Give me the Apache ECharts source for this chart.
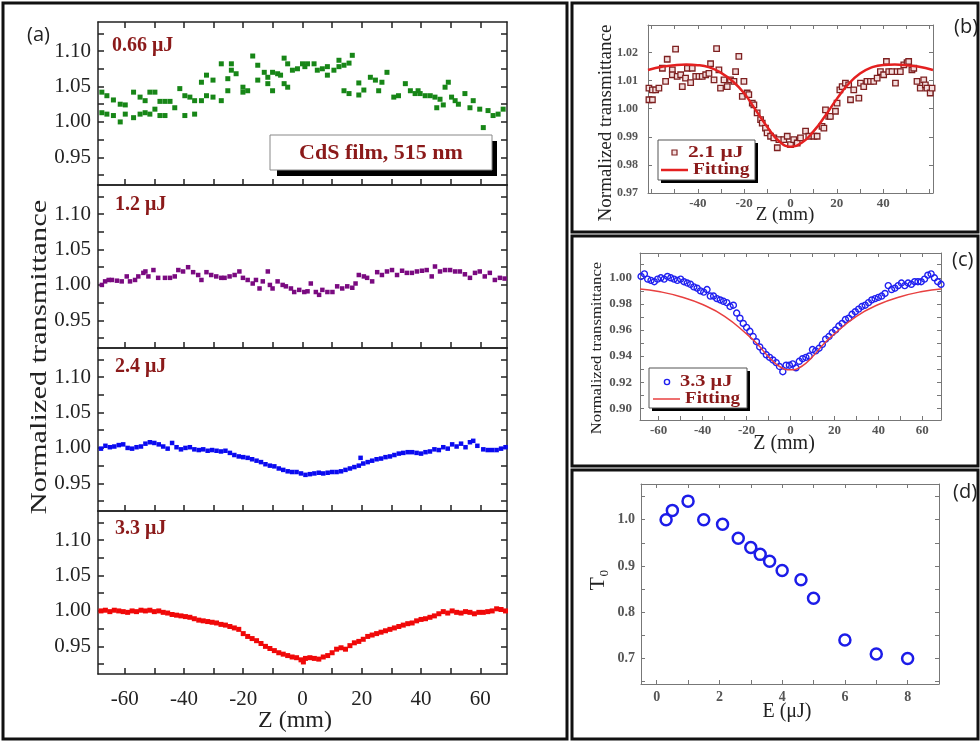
<!DOCTYPE html>
<html lang="en">
<head>
<meta charset="UTF-8">
<title>CdS film Z-scan</title>
<script src="https://cdn.jsdelivr.net/npm/echarts@6/dist/echarts.min.js"></script>
<style>
    html, body { margin: 0; padding: 0; background: #fff; }
    #main { width: 980px; height: 742px; }
</style>
</head>
<body>
<div id="main"></div>
<script type="text/javascript">
    // ---- data ----
    // (a) Z (mm) vs normalized transmittance, four pulse energies
    var pts066 = [[-67.7,1.042],[-67.7,1.013],[-66.0,1.037],[-66.0,1.011],[-63.8,1.031],[-63.8,1.009],[-61.5,1.000],[-61.5,1.025],[-59.8,1.024],[-59.8,1.011],[-57.0,1.006],[-57.0,1.042],[-54.8,1.035],[-54.8,1.011],[-53.1,1.030],[-53.1,1.013],[-51.5,1.042],[-51.5,1.011],[-49.8,1.042],[-49.8,1.018],[-48.1,1.029],[-48.1,1.009],[-46.4,1.029],[-46.4,1.009],[-44.7,1.029],[-43.1,1.020],[-41.4,1.047],[-39.7,1.037],[-39.7,1.009],[-38.0,1.035],[-36.4,1.011],[-36.4,1.030],[-34.1,1.056],[-34.1,1.030],[-32.4,1.066],[-32.4,1.037],[-30.2,1.035],[-30.2,1.059],[-27.4,1.030],[-27.4,1.082],[-25.2,1.044],[-25.2,1.061],[-24.0,1.082],[-24.0,1.073],[-22.4,1.068],[-20.1,1.042],[-20.1,1.049],[-18.5,1.044],[-16.8,1.093],[-15.1,1.080],[-15.1,1.059],[-12.9,1.070],[-11.7,1.063],[-11.7,1.054],[-10.1,1.044],[-10.1,1.070],[-8.4,1.068],[-7.4,1.066],[-6.2,1.090],[-6.2,1.054],[-5.0,1.082],[-5.0,1.049],[-3.4,1.073],[-1.7,1.075],[0,1.082],[0.8,1.078],[1.7,1.082],[3.9,1.082],[5.0,1.073],[6.7,1.075],[8.4,1.078],[8.4,1.066],[10.6,1.073],[12.3,1.087],[12.3,1.078],[14.0,1.080],[14.0,1.044],[15.7,1.083],[15.7,1.040],[16.8,1.094],[19.0,1.055],[19.0,1.038],[20.7,1.045],[22.9,1.063],[24.6,1.059],[25.7,1.044],[26.8,1.056],[28.5,1.070],[30.8,1.035],[32.4,1.037],[34.7,1.054],[36.4,1.044],[38.0,1.040],[39.0,1.044],[39.7,1.040],[41.4,1.037],[43.1,1.037],[44.7,1.035],[45.3,1.020],[46.4,1.032],[47.5,1.024],[48.1,1.049],[49.2,1.056],[50.3,1.035],[51.5,1.030],[52.6,1.025],[54.8,1.040],[56.5,1.020],[57.6,1.030],[59.8,1.018],[61.0,0.992],[62.6,1.016],[64.3,1.009],[66.0,1.011],[67.7,1.018]];

    var pts12 = [[-67.7,1.000],[-66.6,1.005],[-65.4,1.007],[-64.3,1.007],[-62.6,1.006],[-61.0,1.005],[-59.3,1.012],[-58.2,1.005],[-56.5,1.007],[-55.4,1.012],[-53.7,1.017],[-53.0,1.019],[-52.0,1.012],[-50.3,1.021],[-48.7,1.010],[-46.4,1.010],[-44.7,1.010],[-43.1,1.012],[-41.9,1.021],[-40.3,1.019],[-38.6,1.025],[-36.9,1.018],[-35.2,1.014],[-34.1,1.007],[-32.4,1.018],[-30.8,1.014],[-29.1,1.012],[-27.4,1.010],[-26.3,1.010],[-24.6,1.012],[-22.9,1.014],[-21.3,1.019],[-20.1,1.010],[-18.5,1.007],[-16.8,1.002],[-15.7,1.007],[-14.5,0.995],[-13.4,1.005],[-11.7,1.019],[-11.0,1.000],[-10.1,0.995],[-8.4,1.005],[-6.7,1.000],[-5.6,0.998],[-3.9,0.995],[-2.8,0.990],[-1.1,0.993],[0.6,0.990],[1.7,0.991],[2.8,1.002],[4.5,0.990],[5.6,0.986],[6.7,0.993],[8.4,0.990],[10.1,0.990],[11.7,0.998],[13.4,0.995],[15.1,0.998],[16.8,0.996],[17.9,1.002],[19.0,1.014],[20.7,1.012],[21.8,1.010],[23.5,1.005],[25.2,1.018],[26.8,1.014],[28.5,1.019],[30.2,1.021],[31.9,1.014],[33.6,1.020],[35.2,1.017],[36.9,1.017],[38.6,1.019],[40.3,1.020],[41.9,1.021],[43.6,1.012],[44.7,1.026],[46.4,1.019],[48.1,1.021],[49.8,1.021],[51.5,1.019],[53.1,1.019],[54.8,1.015],[56.5,1.010],[58.2,1.017],[59.8,1.019],[61.5,1.012],[63.2,1.017],[64.9,1.007],[66.6,1.010],[68.2,1.009]];

    var pts24 = [[-68,0.999],[-66.5,1.003],[-65,1.001],[-63.5,1.002],[-62,1.004],[-60.5,1.005],[-59,1.000],[-57.5,0.999],[-56,1.001],[-54.5,1.002],[-53,1.006],[-51.5,1.008],[-50,1.007],[-48.5,1.005],[-47,1.002],[-45.5,0.999],[-44,1.007],[-42.5,1.001],[-41,0.998],[-39.5,1.000],[-38,1.001],[-36.5,0.998],[-35,0.997],[-33.5,0.998],[-32,0.996],[-30.5,0.997],[-29,0.996],[-27.5,0.995],[-26,0.996],[-24.5,0.993],[-23,0.990],[-21.5,0.988],[-20,0.987],[-18.5,0.986],[-17,0.984],[-15.5,0.982],[-14,0.980],[-12.5,0.977],[-11,0.975],[-9.5,0.974],[-8,0.971],[-6.5,0.969],[-5,0.967],[-3.5,0.966],[-2,0.966],[-0.5,0.964],[1,0.962],[2.5,0.963],[4,0.964],[5.5,0.965],[7,0.964],[8.5,0.965],[10,0.966],[11.5,0.966],[13,0.967],[14.5,0.969],[16,0.971],[17.5,0.973],[19,0.975],[19.6,0.986],[20.5,0.978],[22,0.980],[23.5,0.982],[25,0.984],[26.5,0.985],[28,0.987],[29.5,0.988],[31,0.990],[32.5,0.992],[34,0.993],[35.5,0.994],[37,0.994],[38.5,0.993],[40,0.992],[41.5,0.994],[43,0.995],[44.5,0.998],[46,0.997],[47.5,1.001],[49,0.999],[50.5,1.005],[52,1.002],[53.5,1.006],[55,1.001],[56.5,1.008],[57.6,1.010],[59,1.003],[61,0.998],[62.5,0.997],[64,0.997],[65.5,0.997],[67,0.999],[68.5,1.001]];

    var pts33 = [[-68,1.000],[-66.5,1.001],[-65,0.999],[-63.5,1.001],[-62,1.000],[-60.5,0.999],[-59,0.998],[-57.5,1.000],[-56,0.999],[-54.5,1.001],[-53,1.000],[-51.5,1.001],[-50,0.999],[-48.5,1.000],[-47,0.998],[-45.5,0.997],[-44,0.995],[-42.5,0.994],[-41,0.993],[-39.5,0.992],[-38,0.991],[-36.5,0.989],[-35,0.987],[-33.5,0.986],[-32,0.985],[-30.5,0.984],[-29,0.983],[-27.5,0.981],[-26,0.980],[-24.5,0.978],[-23,0.976],[-21.5,0.974],[-20,0.968],[-18.5,0.964],[-17,0.961],[-15.5,0.958],[-14,0.954],[-12.5,0.950],[-11,0.947],[-9.5,0.944],[-8,0.941],[-6.5,0.939],[-5,0.937],[-3.5,0.935],[-2,0.934],[-0.5,0.931],[0.3,0.928],[1,0.933],[2.5,0.934],[4,0.933],[5.5,0.932],[7,0.935],[8.5,0.937],[10,0.941],[11.5,0.946],[13,0.948],[14.5,0.946],[16,0.951],[17.5,0.955],[19,0.957],[20.5,0.960],[22,0.964],[23.5,0.966],[25,0.968],[26.5,0.970],[28,0.972],[29.5,0.974],[31,0.976],[32.5,0.978],[34,0.980],[35.5,0.982],[37,0.983],[38.5,0.986],[40,0.988],[41.5,0.989],[43,0.991],[44.5,0.993],[46,0.996],[47.5,0.999],[49,0.997],[50.5,1.000],[52,0.998],[53.5,0.997],[55,0.999],[56.5,0.998],[58,0.996],[59.5,0.998],[61,0.998],[62.5,0.999],[64,1.000],[65.5,1.003],[67,1.002],[68.5,1.000]];

    // (b) 2.1 uJ and its fit
    var pts21 = [[-61.1,1.0073],[-61.1,1.0032],[-59.6,1.0067],[-59.6,1.0032],[-58.2,1.0067],[-56.8,1.0073],[-55.3,1.0144],[-53.9,1.0097],[-53.2,1.0176],[-51.0,1.0138],[-51.0,1.0121],[-49.6,1.0212],[-48.9,1.0115],[-47.4,1.0121],[-46.7,1.0079],[-45.3,1.0109],[-44.5,1.0144],[-43.1,1.0093],[-42.4,1.0144],[-40.9,1.0115],[-39.5,1.0115],[-38.1,1.0115],[-36.6,1.0121],[-35.2,1.0126],[-34.5,1.0160],[-33.0,1.0103],[-31.9,1.0214],[-30.9,1.0138],[-30.2,1.0073],[-28.7,1.0103],[-27.3,1.0079],[-25.9,1.0103],[-24.4,1.0097],[-23.7,1.0132],[-22.3,1.0186],[-20.1,1.0097],[-20.8,1.0044],[-18.7,1.0056],[-18.0,1.0050],[-16.5,1.0020],[-15.8,1.0014],[-14.4,0.9985],[-12.9,0.9961],[-12.2,0.9949],[-10.8,0.9931],[-10.1,0.9914],[-8.6,0.9902],[-7.2,0.9896],[-5.7,0.9861],[-5.0,0.9890],[-2.9,0.9890],[-1.4,0.9902],[0,0.9872],[1.4,0.9890],[2.9,0.9878],[4.3,0.9896],[6.5,0.9920],[7.9,0.9902],[10.1,0.9902],[11.5,0.9902],[13.6,0.9937],[14.4,0.9931],[15.1,0.9996],[16.5,0.9973],[17.2,0.9973],[19.4,0.9991],[20.1,1.0020],[21.3,1.0067],[22.3,1.0079],[23.7,1.0091],[25.1,1.0085],[25.9,1.0032],[27.3,1.0067],[29.5,1.0038],[30.2,1.0091],[31.6,1.0079],[33.0,1.0097],[34.5,1.0097],[35.9,1.0097],[37.4,1.0109],[38.8,1.0132],[40.2,1.0121],[41.4,1.0168],[42.4,1.0132],[43.8,1.0132],[45.3,1.0091],[46.0,1.0132],[47.4,1.0132],[48.9,1.0156],[50.3,1.0164],[51.0,1.0168],[52.4,1.0138],[53.2,1.0144],[54.6,1.0097],[56.0,1.0073],[57.5,1.0103],[58.2,1.0085],[58.9,1.0073],[60.3,1.0056],[61.1,1.0073]];
    var fit21 = [[-61.5,1.0138],[-55,1.0150],[-50,1.0155],[-45,1.0157],[-40,1.0155],[-35,1.0147],[-30,1.0128],[-25,1.0098],[-20,1.0055],[-15,0.9995],[-10,0.9935],[-5,0.9885],[0,0.9865],[5,0.9880],[10,0.9920],[15,0.9975],[20,1.0035],[25,1.0088],[30,1.0125],[35,1.0147],[40,1.0156],[45,1.0157],[50,1.0155],[55,1.0150],[61.5,1.0138]];

    // (c) 3.3 uJ and its fit
    var pts33c = [[-68,1.001],[-66.5,1.003],[-65,0.999],[-63.5,0.998],[-62,0.997],[-60.5,0.999],[-59,1.000],[-57.5,0.999],[-56,1.001],[-54.5,1.000],[-53,0.999],[-51.5,0.998],[-50,0.999],[-48.5,0.997],[-47,0.996],[-45.5,0.995],[-44,0.993],[-42.5,0.992],[-41,0.990],[-39.5,0.989],[-38,0.991],[-36.5,0.986],[-35,0.986],[-33.5,0.984],[-32,0.983],[-30.5,0.982],[-29,0.981],[-27.5,0.978],[-26,0.979],[-24.5,0.973],[-23,0.969],[-21.5,0.965],[-20,0.962],[-18.5,0.959],[-17,0.955],[-15.5,0.951],[-14,0.947],[-12.5,0.944],[-11,0.941],[-9.5,0.939],[-8,0.937],[-6.5,0.935],[-5,0.932],[-3.5,0.928],[-2,0.933],[-0.5,0.933],[1,0.934],[2.5,0.931],[4,0.936],[5.5,0.938],[7,0.939],[8.5,0.940],[10,0.945],[11.5,0.944],[13,0.946],[14.5,0.949],[16,0.953],[17.5,0.955],[19,0.958],[20.5,0.960],[22,0.963],[23.5,0.965],[25,0.968],[26.5,0.969],[28,0.972],[29.5,0.974],[31,0.976],[32.5,0.978],[34,0.979],[35.5,0.981],[37,0.983],[38.5,0.984],[40,0.985],[41.5,0.986],[43,0.988],[44.5,0.994],[46,0.991],[47.5,0.992],[49,0.994],[50.5,0.996],[52,0.994],[53.5,0.996],[55,0.995],[56.5,0.997],[58,0.997],[59.5,0.997],[61,0.999],[62.5,1.002],[64,1.003],[65.5,1.000],[67,0.997],[68.5,0.995]];
    var fit33 = [[-68.5,0.9915],[-60,0.9895],[-50,0.9855],[-40,0.9795],[-30,0.9705],[-20,0.9570],[-15,0.9490],[-10,0.9395],[-5,0.9320],[0,0.9295],[5,0.9320],[10,0.9395],[15,0.9490],[20,0.9570],[30,0.9705],[40,0.9795],[50,0.9855],[60,0.9895],[68.5,0.9915]];

    // (d) T0 vs pulse energy
    var energy = [0.3, 0.5, 1, 1.5, 2.1, 2.6, 3, 3.3, 3.6, 4, 4.6, 5, 6, 7, 8];
    var t0 = [1.00, 1.02, 1.04, 1.00, 0.99, 0.96, 0.94, 0.925, 0.91, 0.89, 0.87, 0.83, 0.74, 0.71, 0.70];

    // tick positions
    var zLabelsA = [-60, -40, -20, 0, 20, 40, 60];
    var zTicksA = [-60, -50, -40, -30, -20, -10, 0, 10, 20, 30, 40, 50, 60];
    var tLabelsA = [0.95, 1.00, 1.05, 1.10];
    var tTicksA = [0.925, 0.95, 0.975, 1.0, 1.025, 1.05, 1.075, 1.1, 1.125];
    var zLabelsB = [-40, -20, 0, 20, 40];
    var zTicksB = [-60, -50, -40, -30, -20, -10, 0, 10, 20, 30, 40, 50, 60];
    var tLabelsB = [0.97, 0.98, 0.99, 1.00, 1.01, 1.02];
    var zLabelsC = [-60, -40, -20, 0, 20, 40, 60];
    var tLabelsC = [0.90, 0.92, 0.94, 0.96, 0.98, 1.00];
    var tTicksC = [0.90, 0.91, 0.92, 0.93, 0.94, 0.95, 0.96, 0.97, 0.98, 0.99, 1.00, 1.01];
    var eLabelsD = [0, 2, 4, 6, 8];
    var eTicksD = [0, 1, 2, 3, 4, 5, 6, 7, 8, 9];
    var tLabelsD = [0.7, 0.8, 0.9, 1.0];
    var tTicksD = [0.65, 0.7, 0.75, 0.8, 0.85, 0.9, 0.95, 1.0, 1.05];

    var SERIF = 'Liberation Serif';
    var SANS = 'Open Sans';
    var DARKRED = '#8b1a1a';

    var chartDom = document.getElementById('main');
    var myChart = echarts.init(chartDom);

    var grids = [
        {left: 98, top: 22, width: 409, height: 163},
        {left: 98, top: 185, width: 409, height: 163},
        {left: 98, top: 348, width: 409, height: 163},
        {left: 98, top: 511, width: 409, height: 163},
        {left: 648, top: 25, width: 285, height: 168},
        {left: 640, top: 253, width: 301, height: 167},
        {left: 641, top: 484, width: 298, height: 200}
    ];

    var xAxes = [], yAxes = [];

    // every panel is a closed box: bottom+top x axes, left+right y axes, ticks pointing in
    function addBox(gi, xs, ys) {
        ['bottom', 'top'].forEach(function (pos) {
            var main = pos === 'bottom';
            xAxes.push({
                type: 'value', gridIndex: gi, position: pos, min: xs.min, max: xs.max,
                axisLine: {show: true, onZero: false, lineStyle: {color: xs.color, width: xs.width}},
                axisTick: {show: main || xs.topTicks !== false, inside: true, length: xs.tick,
                    customValues: xs.ticks, lineStyle: {color: xs.color, width: xs.width}},
                axisLabel: {show: main && !!xs.labels, customValues: xs.labels || xs.ticks,
                    formatter: xs.fmt, fontFamily: SERIF, fontSize: xs.size, fontWeight: xs.weight,
                    color: xs.textColor, margin: xs.margin},
                splitLine: {show: false}
            });
        });
        ['left', 'right'].forEach(function (pos) {
            var main = pos === 'left';
            yAxes.push({
                type: 'value', gridIndex: gi, position: pos, min: ys.min, max: ys.max,
                axisLine: {show: true, onZero: false, lineStyle: {color: ys.color, width: ys.width}},
                axisTick: {show: true, inside: true, length: ys.tick,
                    customValues: ys.ticks, lineStyle: {color: ys.color, width: ys.width}},
                axisLabel: {show: main, customValues: ys.labels,
                    formatter: ys.fmt, fontFamily: SERIF, fontSize: ys.size, fontWeight: ys.weight,
                    color: ys.textColor, margin: ys.margin},
                splitLine: {show: false}
            });
        });
    }

    function fix(n) { return function (v) { return Number(v).toFixed(n); }; }
    function plain(v) { return String(Math.round(v)); }

    for (var i = 0; i < 4; i++) {
        addBox(i, {
            min: -69, max: 69, ticks: zTicksA, labels: i === 3 ? zLabelsA : null, fmt: plain,
            color: '#222', width: 1.5, tick: 6, size: 21, weight: 'normal', textColor: '#222', margin: 15,
            topTicks: i === 0
        }, {
            min: 0.911, max: 1.141, ticks: tTicksA, labels: tLabelsA, fmt: fix(2),
            color: '#222', width: 1.5, tick: 6, size: 21, weight: 'normal', textColor: '#222', margin: 7
        });
    }
    addBox(4, {
        min: -61.5, max: 61.5, ticks: zTicksB, labels: zLabelsB, fmt: plain,
        color: '#777', width: 1, tick: 4, size: 13, weight: 'bold', textColor: '#555', margin: 4
    }, {
        min: 0.97, max: 1.0298, ticks: tLabelsB, labels: tLabelsB, fmt: fix(2),
        color: '#777', width: 1, tick: 4, size: 12, weight: 'bold', textColor: '#555', margin: 10
    });
    addBox(5, {
        min: -68.5, max: 68.5, ticks: zTicksA, labels: zLabelsC, fmt: plain,
        color: '#777', width: 1, tick: 4, size: 13, weight: 'bold', textColor: '#555', margin: 4
    }, {
        min: 0.891, max: 1.019, ticks: tTicksC, labels: tLabelsC, fmt: fix(2),
        color: '#777', width: 1, tick: 4, size: 13, weight: 'bold', textColor: '#555', margin: 8
    });
    addBox(6, {
        min: -0.5, max: 9, ticks: eTicksD, labels: eLabelsD, fmt: plain,
        color: '#777', width: 1, tick: 4, size: 14, weight: 'bold', textColor: '#555', margin: 6
    }, {
        min: 0.645, max: 1.077, ticks: tTicksD, labels: tLabelsD, fmt: fix(1),
        color: '#777', width: 1, tick: 4, size: 14, weight: 'bold', textColor: '#555', margin: 6
    });

    function scat(gi, data, symbol, size, style) {
        style.opacity = 1;
        return {type: 'scatter', xAxisIndex: gi * 2, yAxisIndex: gi * 2, data: data,
            symbol: symbol, symbolSize: size, itemStyle: style, silent: true, z: 3};
    }
    function fitLine(gi, data, color, width) {
        return {type: 'line', xAxisIndex: gi * 2, yAxisIndex: gi * 2, data: data, smooth: true,
            showSymbol: false, lineStyle: {color: color, width: width}, silent: true, z: 4};
    }

    var series = [
        scat(0, pts066, 'rect', 5, {color: '#178617'}),
        scat(1, pts12, 'rect', 4.5, {color: '#7a0a80'}),
        scat(2, pts24, 'rect', 4.5, {color: '#0a0af0'}),
        scat(3, pts33, 'rect', 5, {color: '#f00808'}),
        scat(4, pts21, 'rect', 5.5, {color: '#f3dede', borderColor: '#7e2020', borderWidth: 1.3}),
        fitLine(4, fit21, '#e42020', 2.5),
        scat(5, pts33c, 'circle', 6, {color: 'rgba(255,255,255,0)', borderColor: '#2020f0', borderWidth: 1.4}),
        fitLine(5, fit33, '#e84040', 1.5),
        scat(6, energy.map(function (e, k) { return [e, t0[k]]; }), 'circle', 11,
            {color: '#fff', borderColor: '#1c1ce8', borderWidth: 2.5})
    ];

    function txt(x, y, s, size, opts) {
        opts = opts || {};
        return {
            type: 'text', x: x, y: y, rotation: opts.rot || 0, scaleX: opts.sx || 1, z: 10,
            style: {text: s, fontSize: size, fontFamily: opts.font || SERIF, fontWeight: opts.weight || 'normal',
                fill: opts.fill || '#222', align: opts.align || 'center', verticalAlign: 'middle'}
        };
    }
    function rect(x, y, w, h, fill, stroke, lw) {
        return {type: 'rect', shape: {x: x, y: y, width: w, height: h}, z: 9,
            style: {fill: fill, stroke: stroke || null, lineWidth: lw || 0}};
    }

    var graphics = [
        // panel frames
        rect(3, 3, 564, 736, 'none', '#111', 3),
        rect(572, 3, 406, 229, 'none', '#111', 3),
        rect(572, 236, 406, 230, 'none', '#111', 3),
        rect(572, 470, 406, 269, 'none', '#111', 3),
        // panel letters
        txt(27, 35, '(a)', 20, {font: SANS, align: 'left'}),
        txt(954, 27, '(b)', 20, {font: SANS, align: 'left'}),
        txt(952, 260, '(c)', 20, {font: SANS, align: 'left'}),
        txt(953, 492, '(d)', 20, {font: SANS, align: 'left'}),
        // panel (a) labels
        txt(40, 357, 'Normalized transmittance', 23, {rot: Math.PI / 2, sx: 1.32}),
        txt(295, 721, 'Z (mm)', 24),
        txt(112, 46, '0.66 μJ', 20, {align: 'left', weight: 'bold', fill: DARKRED}),
        txt(115, 205, '1.2 μJ', 20, {align: 'left', weight: 'bold', fill: DARKRED}),
        txt(115, 367, '2.4 μJ', 20, {align: 'left', weight: 'bold', fill: DARKRED}),
        txt(115, 529, '3.3 μJ', 20, {align: 'left', weight: 'bold', fill: DARKRED}),
        rect(277, 141, 220, 35, '#000'),
        rect(270, 135, 222, 35, '#fff', '#888', 1),
        txt(381, 153, 'CdS film, 515 nm', 22, {weight: 'bold', fill: DARKRED}),
        // panel (b) labels + legend
        txt(606, 123, 'Normalized transmittance', 19, {rot: Math.PI / 2}),
        txt(785, 215, 'Z (mm)', 19),
        rect(661, 143, 97, 40, '#000'),
        rect(658, 140, 97, 40, '#fff', '#555', 1),
        rect(672, 150, 5, 5, '#f3dede', '#7e2020', 1.2),
        txt(688, 153, '2.1 μJ', 16, {align: 'left', weight: 'bold', fill: DARKRED, sx: 1.35}),
        {type: 'line', shape: {x1: 661, y1: 170, x2: 688, y2: 170}, z: 10, style: {stroke: '#e42020', lineWidth: 2.5}},
        txt(693, 170, 'Fitting', 17, {align: 'left', weight: 'bold', fill: DARKRED, sx: 1.15}),
        // panel (c) labels + legend
        txt(597, 348, 'Normalized transmittance', 15, {rot: Math.PI / 2, sx: 1.11}),
        txt(784, 444, 'Z (mm)', 20),
        rect(652, 371, 98, 40, '#000'),
        rect(649, 368, 98, 40, '#fff', '#555', 1),
        {type: 'circle', shape: {cx: 667, cy: 382, r: 2.6}, z: 10, style: {fill: 'none', stroke: '#2020f0', lineWidth: 1.4}},
        txt(680, 382, '3.3 μJ', 17, {align: 'left', weight: 'bold', fill: DARKRED, sx: 1.2}),
        {type: 'line', shape: {x1: 653, y1: 399, x2: 680, y2: 399}, z: 10, style: {stroke: '#e84040', lineWidth: 1.5}},
        txt(685, 399, 'Fitting', 17, {align: 'left', weight: 'bold', fill: DARKRED, sx: 1.12}),
        // panel (d) labels
        txt(598, 580, 'T₀', 22, {rot: Math.PI / 2}),
        txt(787, 712, 'E (μJ)', 20)
    ];

    var option = {
        animation: false,
        backgroundColor: '#fff',
        textStyle: {fontFamily: SERIF},
        grid: grids,
        xAxis: xAxes,
        yAxis: yAxes,
        series: series,
        graphic: {elements: graphics}
    };

    myChart.setOption(option);
</script>
</body>
</html>
